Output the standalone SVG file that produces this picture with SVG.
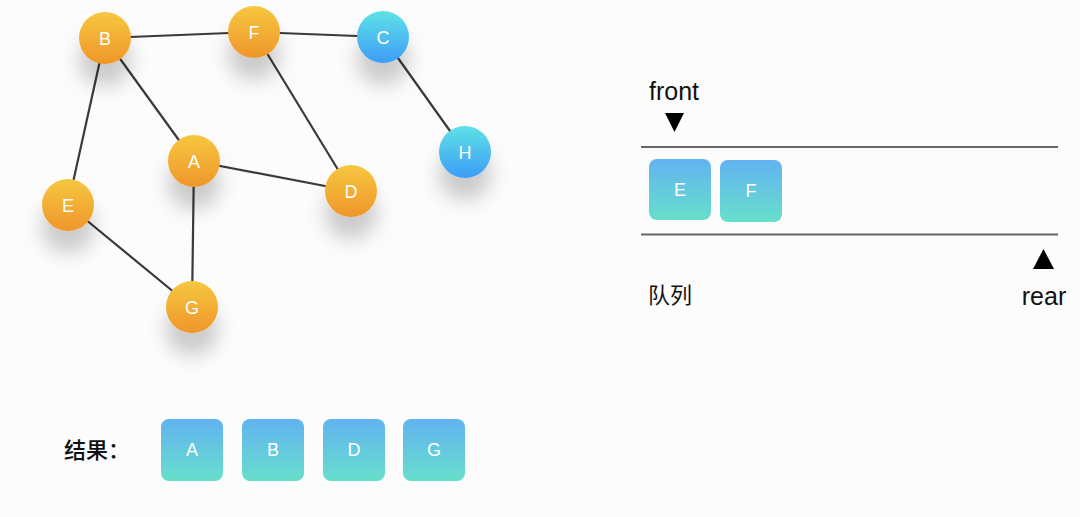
<svg xmlns="http://www.w3.org/2000/svg" width="1080" height="517" viewBox="0 0 1080 517">
<defs>
<linearGradient id="gOrange" x1="0" y1="0" x2="0" y2="1"><stop offset="0" stop-color="#F6C73F"/><stop offset="1" stop-color="#EF962B"/></linearGradient>
<linearGradient id="gBlue" x1="0" y1="0" x2="0" y2="1"><stop offset="0" stop-color="#5EE2E6"/><stop offset="1" stop-color="#3E9CF6"/></linearGradient>
<linearGradient id="gBox" x1="0" y1="0" x2="0" y2="1"><stop offset="0" stop-color="#62B3F1"/><stop offset="1" stop-color="#67DFCB"/></linearGradient>
<filter id="sh" x="-80%" y="-80%" width="260%" height="300%"><feDropShadow dx="0" dy="22" stdDeviation="10" flood-color="#000" flood-opacity="0.2"/></filter>
</defs>
<style>
.edge{stroke:#3a3a3a;stroke-width:2.2;fill:none}
.lbl{font-family:"Liberation Sans",Arial,sans-serif;font-size:18px;fill:#fff;text-anchor:middle;dominant-baseline:central}
.box{fill:url(#gBox)}
.qline{stroke:#666;stroke-width:2}
.txt{font-family:"Liberation Sans","Noto Sans CJK SC",sans-serif;fill:#111}
</style>
<rect width="1080" height="517" fill="#FCFCFC"/>
<g id="connectors">
<line class="edge" x1="105" y1="38" x2="254" y2="32"/>
<line class="edge" x1="254" y1="32" x2="383" y2="37"/>
<line class="edge" x1="105" y1="38" x2="68" y2="205"/>
<line class="edge" x1="105" y1="38" x2="194" y2="161"/>
<line class="edge" x1="254" y1="32" x2="351" y2="191"/>
<line class="edge" x1="383" y1="37" x2="465" y2="152"/>
<line class="edge" x1="194" y1="161" x2="351" y2="191"/>
<line class="edge" x1="194" y1="161" x2="192" y2="307"/>
<line class="edge" x1="68" y1="205" x2="192" y2="307"/>
</g>
<g id="node-B"><circle cx="105" cy="38" r="26" fill="url(#gOrange)" filter="url(#sh)"/><text class="lbl" x="105" y="39">B</text></g>
<g id="node-F"><circle cx="254" cy="32" r="26" fill="url(#gOrange)" filter="url(#sh)"/><text class="lbl" x="254" y="33">F</text></g>
<g id="node-C"><circle cx="383" cy="37" r="26" fill="url(#gBlue)" filter="url(#sh)"/><text class="lbl" x="383" y="38">C</text></g>
<g id="node-H"><circle cx="465" cy="152" r="26" fill="url(#gBlue)" filter="url(#sh)"/><text class="lbl" x="465" y="153">H</text></g>
<g id="node-A"><circle cx="194" cy="161" r="26" fill="url(#gOrange)" filter="url(#sh)"/><text class="lbl" x="194" y="162">A</text></g>
<g id="node-D"><circle cx="351" cy="191" r="26" fill="url(#gOrange)" filter="url(#sh)"/><text class="lbl" x="351" y="192">D</text></g>
<g id="node-E"><circle cx="68" cy="205" r="26" fill="url(#gOrange)" filter="url(#sh)"/><text class="lbl" x="68" y="206">E</text></g>
<g id="node-G"><circle cx="192" cy="307" r="26" fill="url(#gOrange)" filter="url(#sh)"/><text class="lbl" x="192" y="308">G</text></g>
<g id="queue">
<line class="qline" x1="641" y1="147" x2="1058" y2="147"/>
<line class="qline" x1="641" y1="234.5" x2="1058" y2="234.5"/>
<text class="txt" x="674" y="100" font-size="25" text-anchor="middle">front</text>
<polygon points="665,113 684,113 674.5,132" fill="#000"/>
<polygon points="1033,269 1054,269 1043.5,249" fill="#000"/>
<text class="txt" x="1044" y="305" font-size="25" text-anchor="middle">rear</text>
<text class="txt" x="648" y="303" font-size="22">队列</text>
</g>
<g id="queue-E"><rect class="box" x="649" y="159" width="62" height="61" rx="8"/><text class="lbl" x="680" y="190">E</text></g>
<g id="queue-F"><rect class="box" x="720" y="160" width="62" height="62" rx="8"/><text class="lbl" x="751" y="191">F</text></g>
<g id="result">
<text class="txt" x="64" y="458" font-size="22" font-weight="500">结果：</text>
</g>
<g id="result-A"><rect class="box" x="161" y="419" width="62" height="62" rx="8"/><text class="lbl" x="192" y="450">A</text></g>
<g id="result-B"><rect class="box" x="242" y="419" width="62" height="62" rx="8"/><text class="lbl" x="273" y="450">B</text></g>
<g id="result-D"><rect class="box" x="323" y="419" width="62" height="62" rx="8"/><text class="lbl" x="354" y="450">D</text></g>
<g id="result-G"><rect class="box" x="403" y="419" width="62" height="62" rx="8"/><text class="lbl" x="434" y="450">G</text></g>
</svg>
